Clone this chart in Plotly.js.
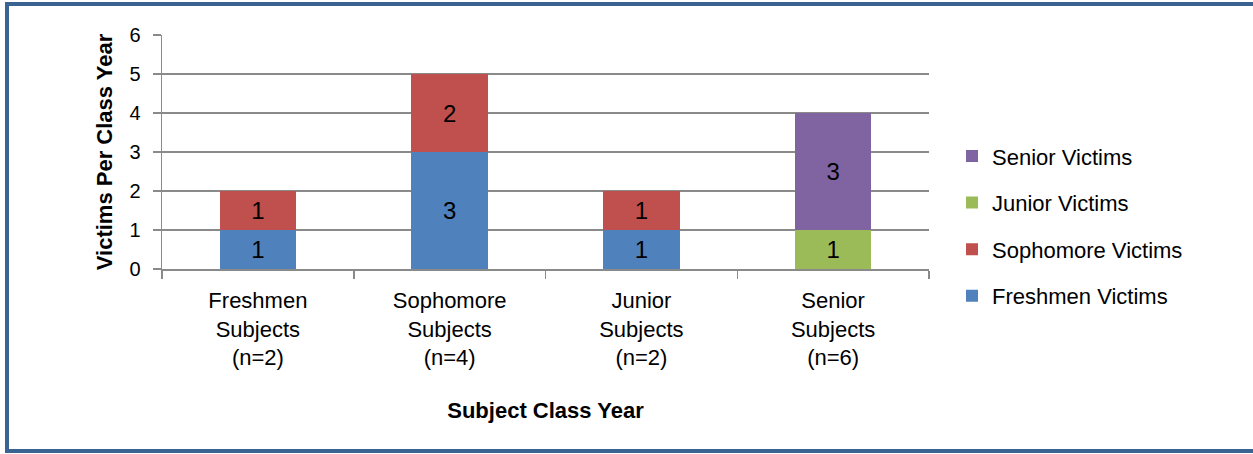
<!DOCTYPE html>
<html>
<head>
<meta charset="utf-8">
<script src="https://cdn.plot.ly/plotly-3.0.1.min.js"></script>
<style>
  html, body { margin: 0; padding: 0; background: #fff; overflow: hidden; }
  #wrap { position: relative; width: 1253px; height: 454px; }
  #frame { position: absolute; left: 5px; top: 2px; width: 1300px; height: 451px;
           border: 4px solid #3A6391; border-right: none; box-sizing: border-box; pointer-events: none; z-index: 5; }
  #chart { position: absolute; left: 0; top: 0; width: 1253px; height: 454px; }
</style>
</head>
<body>
<div id="wrap">
  <div id="chart"></div>
  <div id="frame"></div>
</div>
<script>
const categories = [
  "Freshmen<br>Subjects<br>(n=2)",
  "Sophomore<br>Subjects<br>(n=4)",
  "Junior<br>Subjects<br>(n=2)",
  "Senior<br>Subjects<br>(n=6)"
];
const freshmenVictims  = [1, 3, 1, null];
const sophomoreVictims = [1, 2, 1, null];
const juniorVictims    = [null, null, null, 1];
const seniorVictims    = [null, null, null, 3];
const yTicks = [0, 1, 2, 3, 4, 5, 6];

const FONT = '"Liberation Sans", Arial, sans-serif';

function series(name, values, color, rank) {
  return {
    type: "bar",
    name: name,
    x: categories,
    y: values,
    marker: { color: color },
    text: values.map(v => v == null ? "" : String(v)),
    textposition: "inside",
    insidetextanchor: "middle",
    textfont: { family: FONT, size: 24, color: "#000" },
    legendgroup: name,
    legendrank: rank,
    hoverinfo: "skip"
  };
}

const data = [
  series("Freshmen Victims", freshmenVictims, "#4F81BD", 4),
  series("Sophomore Victims", sophomoreVictims, "#C0504D", 3),
  series("Junior Victims", juniorVictims, "#9BBB59", 2),
  series("Senior Victims", seniorVictims, "#8064A2", 1)
];

const layout = {
  width: 1253,
  height: 454,
  margin: { l: 162, r: 324, t: 35, b: 184.5 },
  paper_bgcolor: "#fff",
  plot_bgcolor: "#fff",
  barmode: "stack",
  bargap: 0.6,
  showlegend: true,
  font: { family: FONT, size: 22, color: "#000" },
  legend: {
    x: 1.03, xanchor: "left",
    y: 0.183, yanchor: "middle",
    traceorder: "grouped",
    tracegroupgap: 15,
    font: { family: FONT, size: 22, color: "#000" },
    bgcolor: "rgba(0,0,0,0)"
  },
  xaxis: {
    type: "category",
    showline: true, linecolor: "#8A8A8A", linewidth: 1.5,
    ticks: "outside", tickson: "boundaries", ticklen: 8, tickcolor: "#8A8A8A", tickwidth: 1.5,
    showgrid: false,
    tickfont: { family: FONT, size: 22, color: "#000" },
    ticklabelstandoff: 11,
    title: { text: "<b>Subject Class Year</b>", font: { family: FONT, size: 22, color: "#000" }, standoff: 33 }
  },
  yaxis: {
    range: [0, 6],
    tickvals: yTicks,
    ticktext: yTicks.map(String),
    showline: true, linecolor: "#8A8A8A", linewidth: 1.5,
    ticks: "outside", ticklen: 8, tickcolor: "#8A8A8A", tickwidth: 1.5,
    showgrid: true, gridcolor: "#8A8A8A", gridwidth: 1.5,
    zeroline: false,
    tickfont: { family: FONT, size: 20, color: "#000" },
    ticklabelstandoff: 8,
    title: { text: "<b>Victims Per Class Year</b>", font: { family: FONT, size: 22, color: "#000" }, standoff: 10 }
  }
};

Plotly.newPlot("chart", data, layout, { displayModeBar: false, staticPlot: true });
</script>
</body>
</html>
